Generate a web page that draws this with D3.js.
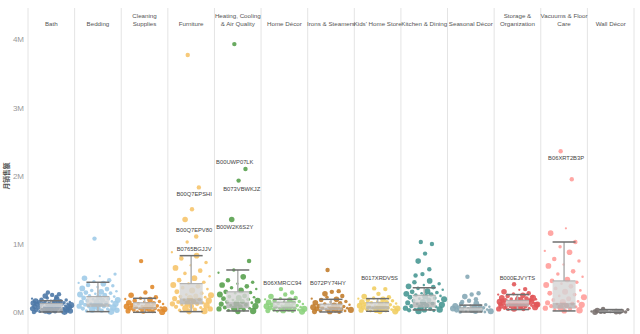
<!DOCTYPE html>
<html>
<head>
<meta charset="utf-8">
<style>
  body { margin: 0; background: #fff; }
  svg { display: block; }
  text { font-family: "Liberation Sans", Arial, sans-serif; }
</style>
</head>
<body>
<div id="chart"></div>
<script src="https://d3js.org/d3.v7.min.js"></script>
<script>
// categories (two-line headers use \n)
const categories = ["Bath", "Bedding", "Cleaning\nSupplies", "Furniture", "Heating, Cooling\n& Air Quality",
  "Home Décor", "Irons & Steamers", "Kids' Home Store", "Kitchen & Dining", "Seasonal Décor",
  "Storage &\nOrganization", "Vacuums & Floor\nCare", "Wall Décor"];

// monthly sales per ASIN, in thousands
const bath = [290, 265, 255, 240, 225, 210, 200, 195, 185, 180, 170, 165, 160, 155, 150, 148, 145, 140, 138, 135,
  130, 128, 125, 120, 118, 115, 110, 105, 100, 98, 95, 90, 85, 80, 78, 75, 70, 65, 60, 58, 55, 50, 45, 40, 35, 30, 28, 25, 20, 15, 12, 10, 8, 5];
const bedding = [1080, 560, 530, 500, 470, 450, 430, 420, 400, 390, 370, 350, 340, 320, 310, 300, 290, 280, 270, 260,
  250, 240, 230, 220, 210, 200, 190, 180, 175, 170, 160, 150, 145, 140, 130, 125, 120, 110, 100, 95, 90, 85, 80, 70, 60, 55, 50, 40, 30, 25, 20, 10];
const cleaning = [750, 370, 290, 250, 220, 205, 195, 185, 170, 160, 150, 140, 130, 125, 120, 110, 100, 95, 90, 85,
  80, 75, 70, 65, 60, 55, 50, 45, 40, 35, 30, 25, 20, 15, 10, 5];
const furniture = [3770, 1830, 1510, 1360, 1110, 1030, 880, 830, 790, 730, 690, 650, 610, 570, 530, 500, 470, 440, 420, 400,
  380, 360, 340, 320, 300, 280, 260, 250, 240, 230, 220, 210, 200, 190, 180, 170, 160, 150, 140, 130, 125, 120, 110, 100, 90, 80, 70, 60, 50, 40, 30, 20, 10];
const heating = [3930, 2100, 1930, 1360, 750, 620, 580, 520, 470, 440, 420, 400, 380, 360, 340, 320, 300, 290, 280, 260,
  240, 230, 220, 210, 200, 190, 180, 170, 160, 150, 140, 130, 120, 110, 100, 90, 80, 70, 60, 55, 50, 40, 30, 20, 10];
const homeDecor = [340, 290, 260, 230, 210, 200, 190, 180, 170, 160, 150, 145, 140, 130, 120, 115, 110, 100, 95, 90,
  85, 80, 75, 70, 65, 60, 55, 50, 45, 40, 35, 30, 25, 20, 15, 10];
const irons = [620, 310, 300, 270, 240, 220, 200, 190, 180, 160, 150, 140, 130, 120, 110, 100, 90, 85, 80,
  75, 70, 65, 60, 55, 50, 45, 40, 35, 30, 25, 20, 15, 10, 5];
const kids = [350, 340, 270, 230, 220, 210, 200, 190, 180, 170, 160, 150, 145, 140, 130, 120, 115, 110, 100, 95,
  90, 85, 80, 75, 70, 65, 60, 55, 50, 45, 40, 35, 30, 25, 20, 15, 10];
const kitchen = [1030, 1000, 860, 750, 630, 560, 540, 460, 440, 420, 400, 380, 370, 350, 330, 310, 300, 290, 280, 270,
  260, 250, 240, 230, 220, 210, 200, 190, 180, 170, 160, 150, 140, 130, 120, 110, 100, 90, 80, 70, 60, 50, 45, 40, 35, 30, 25, 20];
const seasonal = [520, 280, 260, 230, 190, 170, 150, 130, 120, 110, 100, 95, 90, 85, 80, 75, 70, 65, 60, 55,
  50, 45, 40, 35, 30, 25, 20, 15, 10, 8, 5];
const storage = [410, 340, 330, 300, 280, 270, 260, 250, 240, 230, 220, 210, 200, 195, 190, 180, 175, 170, 160, 155,
  150, 145, 140, 135, 130, 125, 120, 115, 110, 105, 100, 95, 90, 85, 80, 75, 70, 65, 60, 55, 50, 45, 40,
  210, 190, 170, 150, 130, 110, 90, 70, 160, 140, 120, 100, 80];
const vacuums = [2360, 1950, 1230, 1160, 1030, 960, 900, 880, 780, 750, 700, 680, 600, 560, 520, 480, 460, 440, 420, 400,
  380, 350, 320, 300, 280, 260, 240, 220, 200, 180, 160, 150, 140, 130, 120, 110, 100, 90, 80, 70, 60, 50, 40, 30, 20];
const wallDecor = [50, 40, 30, 25, 20, 15, 12, 10, 8, 6, 5, 4, 3, 2];

const series = [bath, bedding, cleaning, furniture, heating, homeDecor, irons, kids, kitchen, seasonal, storage, vacuums, wallDecor];

// box plot stats per category, in thousands
const boxLow    = [5, 10, 0, 10, 20, 25, 5, 15, 35, 5, 40, 20, 0];
const boxQ1     = [20, 80, 45, 115, 60, 55, 30, 40, 70, 15, 85, 55, 5];
const boxMedian = [70, 130, 75, 205, 150, 80, 70, 90, 150, 35, 125, 140, 10];
const boxQ3     = [130, 230, 140, 420, 300, 150, 120, 140, 250, 65, 175, 460, 20];
const boxHigh   = [170, 440, 205, 830, 620, 190, 190, 200, 360, 105, 260, 1030, 40];

// labelled outliers: category index, ASIN, sales (K)
const labelCat = [3, 3, 3, 4, 4, 4, 5, 6, 7, 10, 11];
const labelText = ["B00Q7EPSHI", "B00Q7EPV80", "B0765BGJJV", "B00UWP07LK", "B073VBWKJZ", "B00W2K6S2Y",
  "B06XMRCC94", "B072PY74HY", "B017XRDV5S", "B000EJVYTS", "B06XRT2B3P"];
const labelValue = [1830, 1360, 1030, 2100, 1930, 1360, 340, 620, 350, 410, 2360];

const yTicks = [0, 1000, 2000, 3000, 4000];
const colors = ["#4e79a7", "#a0cbe8", "#e08a2c", "#f6c46c", "#59a14f", "#8cd17d", "#c27d2e", "#f1ce63",
  "#499894", "#86a9b6", "#e15759", "#ff9d9a", "#79706e"];

const width = 640, height = 334;
const svg = d3.select("#chart").append("svg").attr("width", width).attr("height", height);

const x = d3.scaleBand().domain(d3.range(categories.length)).range([28, 634]).padding(0);
const y = d3.scaleLinear().domain([0, 4000]).range([312.3, 39.3]);

// panel dividers
svg.append("g").selectAll("line")
  .data(d3.range(categories.length + 1))
  .join("line")
  .attr("x1", i => i < categories.length ? x(i) : x(i - 1) + x.bandwidth())
  .attr("x2", i => i < categories.length ? x(i) : x(i - 1) + x.bandwidth())
  .attr("y1", 8).attr("y2", height)
  .attr("stroke", "#e4e4e4").attr("stroke-width", 1);

// headers
const head = svg.append("g").selectAll("text")
  .data(categories)
  .join("text")
  .attr("text-anchor", "middle")
  .attr("font-size", 6.2)
  .attr("fill", "#555");
head.each(function(d, i) {
  const lines = d.split("\n");
  const t = d3.select(this);
  lines.forEach((ln, k) => {
    t.append("tspan")
      .attr("x", x(i) + x.bandwidth() / 2)
      .attr("y", lines.length === 1 ? 26 : 18 + k * 8)
      .text(ln);
  });
});

// y axis
const yAxis = svg.append("g")
  .attr("transform", "translate(27,0)")
  .call(d3.axisLeft(y).tickValues(yTicks).tickSize(0).tickFormat(d => d / 1000 + "M"));
yAxis.select(".domain").remove();
yAxis.selectAll("text").attr("font-size", 8).attr("fill", "#999")
  .attr("font-family", "Liberation Sans, Arial, sans-serif");

svg.append("text")
  .attr("transform", "translate(7,176) rotate(-90)")
  .attr("text-anchor", "middle")
  .attr("dy", "0.35em")
  .attr("font-size", 6.8)
  .attr("font-weight", "bold")
  .attr("fill", "#555")
  .style("font-family", "Noto Sans CJK SC, sans-serif")
  .text("月销售额");

// jittered points (outliers above the whisker sit closer to the middle)
const jit = i => ((i * 0.6180339887 + 0.31) % 1) - 0.5;
const rad = i => 1.1 + ((i * 0.7548776662 + 0.5) % 1) * 2.2;

series.forEach((vals, c) => {
  const cx = x(c) + x.bandwidth() / 2;
  svg.append("g")
    .selectAll("circle")
    .data(vals)
    .join("circle")
    .attr("cx", (d, i) => cx + jit(i) * (d > boxHigh[c] * 1.3 ? 18 : 40))
    .attr("cy", d => y(d))
    .attr("r", (d, i) => d > boxHigh[c] * 1.3 ? Math.max(rad(i), 2.2) : rad(i))
    .attr("fill", colors[c])
    .attr("fill-opacity", 0.9);
});

// box plots
const boxW = 23;
const boxes = svg.append("g").selectAll("g")
  .data(d3.range(categories.length))
  .join("g")
  .attr("transform", c => `translate(${x(c) + x.bandwidth() / 2},0)`);

boxes.append("line")
  .attr("x1", 0).attr("x2", 0)
  .attr("y1", c => y(boxQ3[c])).attr("y2", c => y(boxHigh[c]))
  .attr("stroke", "#b5b5b5").attr("stroke-width", 1.6);
boxes.append("line")
  .attr("x1", 0).attr("x2", 0)
  .attr("y1", c => y(boxQ1[c])).attr("y2", c => y(boxLow[c]))
  .attr("stroke", "#b5b5b5").attr("stroke-width", 1.6);
boxes.append("rect")
  .attr("x", -boxW / 2).attr("width", boxW)
  .attr("y", c => y(boxQ3[c]))
  .attr("height", c => y(boxMedian[c]) - y(boxQ3[c]))
  .attr("fill", "#d6d6d6").attr("fill-opacity", 0.82);
boxes.append("rect")
  .attr("x", -boxW / 2).attr("width", boxW)
  .attr("y", c => y(boxMedian[c]))
  .attr("height", c => y(boxQ1[c]) - y(boxMedian[c]))
  .attr("fill", "#b3b3b3").attr("fill-opacity", 0.82);
boxes.append("line")
  .attr("x1", -boxW / 2).attr("x2", boxW / 2)
  .attr("y1", c => y(boxQ3[c])).attr("y2", c => y(boxQ3[c]))
  .attr("stroke", "#aaa").attr("stroke-width", 1);
boxes.selectAll("line.cap")
  .data(c => [boxHigh[c], boxLow[c]])
  .join("line")
  .attr("class", "cap")
  .attr("x1", -boxW / 2).attr("x2", boxW / 2)
  .attr("y1", d => y(d)).attr("y2", d => y(d))
  .attr("stroke", "#6f6f6f").attr("stroke-width", 1.5);

// outlier labels (offset from their point)
const labelDy = [7, 10, 7, -7, 8, 7, -6, 13, -10, -6, 7];
const labelDx = [3, 3, 3, -3, 4, -3, -2, -3, 2, 0, 2];
svg.append("g").selectAll("text")
  .data(labelText)
  .join("text")
  .attr("x", (d, i) => x(labelCat[i]) + x.bandwidth() / 2 + labelDx[i])
  .attr("y", (d, i) => y(labelValue[i]) + labelDy[i])
  .attr("dy", "0.35em")
  .attr("text-anchor", "middle")
  .attr("font-size", 5.8)
  .attr("fill", "#444")
  .text(d => d);
</script>
</body>
</html>
